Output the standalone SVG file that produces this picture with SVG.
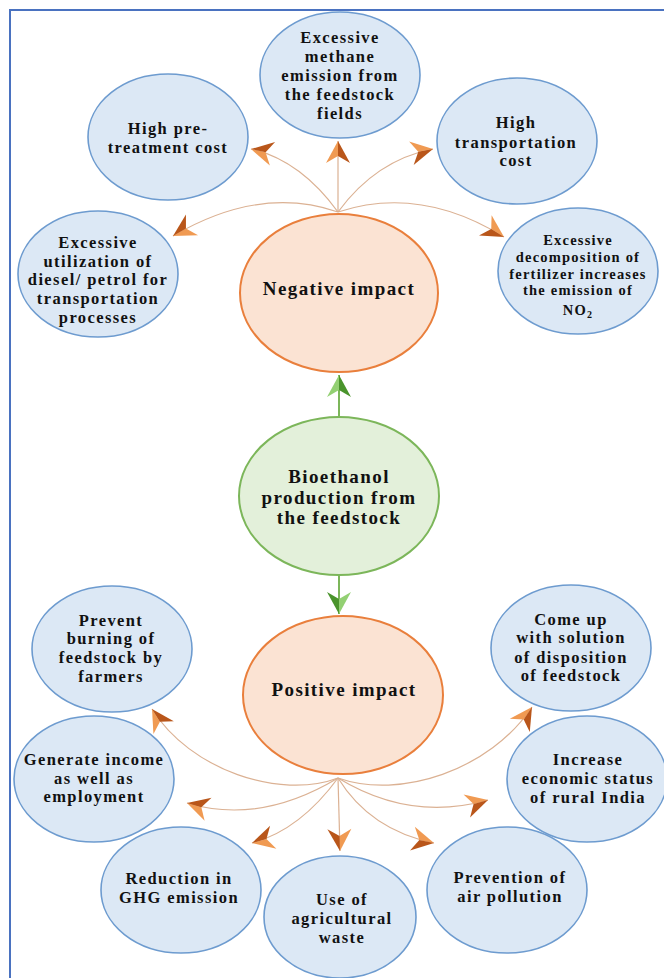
<svg xmlns="http://www.w3.org/2000/svg" width="664" height="978" viewBox="0 0 664 978">
  <style>
    .bg { fill: #ffffff; }
    .frame { fill: none; stroke: #4a72c0; stroke-width: 2; }
    .info ellipse { fill: #dce8f5; stroke: #6d9bcf; stroke-width: 1.6; }
    .impact ellipse { fill: #fbe3d3; stroke: #e97f3c; stroke-width: 2; }
    .source ellipse { fill: #e3f0da; stroke: #7cb65a; stroke-width: 2; }
    text { font-family: "Liberation Serif", "Times New Roman", serif; font-weight: bold; fill: #111111; text-anchor: middle; }
    .t { font-size: 16.5px; letter-spacing: 1.4px; }
    .ts { font-size: 14.5px; letter-spacing: 1.2px; }
    .tl { font-size: 19px; letter-spacing: 1.4px; }
    .link { fill: none; stroke: #dbb193; stroke-width: 1.2; marker-end: url(#headOrange); }
    .stem { fill: none; stroke: #7cb65a; stroke-width: 2; marker-end: url(#headGreen); }
  </style>
  <defs>
    <!-- bevelled stealth heads: light upper half, shaded lower half -->
    <marker id="headOrange" viewBox="0 0 26 26" refX="24" refY="13" markerWidth="26" markerHeight="26" markerUnits="userSpaceOnUse" orient="auto">
      <path d="M24,13 L2,1 L9,13 Z" fill="#f09a52"/>
      <path d="M24,13 L9,13 L2,25 Z" fill="#b9561a"/>
    </marker>
    <marker id="headGreen" viewBox="0 0 26 26" refX="24" refY="13" markerWidth="26" markerHeight="26" markerUnits="userSpaceOnUse" orient="auto">
      <path d="M24,13 L2,1 L9,13 Z" fill="#93d073"/>
      <path d="M24,13 L9,13 L2,25 Z" fill="#4a942c"/>
    </marker>
  </defs>

  <rect class="bg" x="0" y="0" width="664" height="978"/>
  <rect class="frame" x="10" y="10" width="700" height="1000"/>

  <!-- connectors -->
  <g id="connectors">
    <!-- negative impact fan -->
    <path class="link" d="M338,212 Q300,160 251,149"/>
    <path class="link" d="M338,212 L338,141"/>
    <path class="link" d="M338,212 Q376,160 433,149"/>
    <path class="link" d="M338,212 Q260,185 173,236"/>
    <path class="link" d="M338,212 Q420,185 504,237"/>
    <!-- positive impact fan -->
    <path class="link" d="M338,778 C280,800 190,770 152,709"/>
    <path class="link" d="M338,778 C400,800 490,770 532,707"/>
    <path class="link" d="M338,778 Q260,825 187,803"/>
    <path class="link" d="M338,778 Q410,822 488,800"/>
    <path class="link" d="M338,778 Q300,830 252,843"/>
    <path class="link" d="M338,778 L340,851"/>
    <path class="link" d="M338,778 Q370,830 434,843"/>
    <!-- source to impacts -->
    <path class="stem" d="M339,417 L339,375"/>
    <path class="stem" d="M339,575 L339,614"/>
  </g>

  <!-- negative side -->
  <g id="methane" class="info">
    <ellipse cx="340" cy="75" rx="80" ry="63"/>
    <text class="t" x="340" y="43">Excessive</text>
    <text class="t" x="340" y="62">methane</text>
    <text class="t" x="340" y="81">emission from</text>
    <text class="t" x="340" y="100">the feedstock</text>
    <text class="t" x="340" y="119">fields</text>
  </g>
  <g id="pretreatment" class="info">
    <ellipse cx="168" cy="137" rx="80" ry="63"/>
    <text class="t" x="168" y="134">High pre-</text>
    <text class="t" x="168" y="153">treatment cost</text>
  </g>
  <g id="transport-cost" class="info">
    <ellipse cx="517" cy="141" rx="80" ry="63"/>
    <text class="t" x="516" y="128">High</text>
    <text class="t" x="516" y="148">transportation</text>
    <text class="t" x="516" y="166">cost</text>
  </g>
  <g id="fuel-use" class="info">
    <ellipse cx="98" cy="274" rx="80" ry="63"/>
    <text class="t" x="98" y="248">Excessive</text>
    <text class="t" x="98" y="267">utilization of</text>
    <text class="t" x="98" y="285">diesel/ petrol for</text>
    <text class="t" x="98" y="304">transportation</text>
    <text class="t" x="98" y="323">processes</text>
  </g>
  <g id="fertilizer" class="info">
    <ellipse cx="578" cy="271" rx="80" ry="63"/>
    <text class="ts" x="578" y="245">Excessive</text>
    <text class="ts" x="578" y="262">decomposition of</text>
    <text class="ts" x="578" y="279">fertilizer increases</text>
    <text class="ts" x="578" y="295">the emission of</text>
    <text class="ts" x="578" y="315">NO<tspan font-size="10px" dy="3">2</tspan></text>
  </g>
  <g id="negative" class="impact">
    <ellipse cx="339" cy="293" rx="99" ry="79"/>
    <text class="tl" x="339" y="295">Negative impact</text>
  </g>

  <!-- source -->
  <g id="bioethanol" class="source">
    <ellipse cx="339" cy="496" rx="100" ry="79"/>
    <text class="tl" x="339" y="483">Bioethanol</text>
    <text class="tl" x="339" y="504">production from</text>
    <text class="tl" x="339" y="524">the feedstock</text>
  </g>

  <!-- positive side -->
  <g id="positive" class="impact">
    <ellipse cx="343" cy="695" rx="100" ry="79"/>
    <text class="tl" x="344" y="696">Positive impact</text>
  </g>
  <g id="burning" class="info">
    <ellipse cx="112" cy="649" rx="80" ry="63"/>
    <text class="t" x="111" y="626">Prevent</text>
    <text class="t" x="111" y="644">burning of</text>
    <text class="t" x="111" y="663">feedstock by</text>
    <text class="t" x="111" y="682">farmers</text>
  </g>
  <g id="disposition" class="info">
    <ellipse cx="571" cy="648" rx="80" ry="63"/>
    <text class="t" x="571" y="625">Come up</text>
    <text class="t" x="571" y="643">with solution</text>
    <text class="t" x="571" y="663">of disposition</text>
    <text class="t" x="571" y="681">of feedstock</text>
  </g>
  <g id="income" class="info">
    <ellipse cx="94" cy="779" rx="80" ry="63"/>
    <text class="t" x="94" y="765">Generate income</text>
    <text class="t" x="94" y="784">as well as</text>
    <text class="t" x="94" y="802">employment</text>
  </g>
  <g id="rural" class="info">
    <ellipse cx="587" cy="779" rx="80" ry="63"/>
    <text class="t" x="588" y="765">Increase</text>
    <text class="t" x="588" y="784">economic status</text>
    <text class="t" x="588" y="803">of rural India</text>
  </g>
  <g id="ghg" class="info">
    <ellipse cx="181" cy="890" rx="80" ry="63"/>
    <text class="t" x="179" y="884">Reduction in</text>
    <text class="t" x="179" y="903">GHG emission</text>
  </g>
  <g id="agri-waste" class="info">
    <ellipse cx="340" cy="917" rx="76" ry="61"/>
    <text class="t" x="342" y="905">Use of</text>
    <text class="t" x="342" y="924">agricultural</text>
    <text class="t" x="342" y="943">waste</text>
  </g>
  <g id="air" class="info">
    <ellipse cx="507" cy="890" rx="80" ry="63"/>
    <text class="t" x="510" y="883">Prevention of</text>
    <text class="t" x="510" y="902">air pollution</text>
  </g>
</svg>
